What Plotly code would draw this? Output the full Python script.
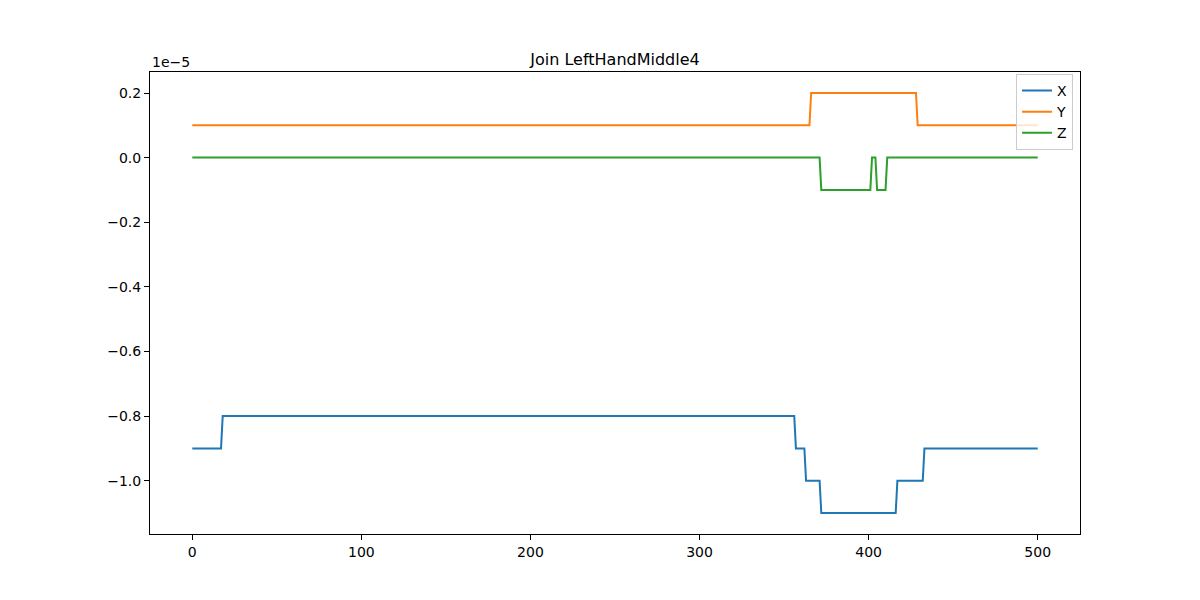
import plotly.graph_objects as go

# Werte in Einheiten von 1e-5, nur die Eckpunkte der Treppen
x_idx = [0, 17, 18, 356, 357, 362, 363, 371, 372, 416, 417, 432, 433, 500]
x_val = [-0.9, -0.9, -0.8, -0.8, -0.9, -0.9, -1.0, -1.0, -1.1, -1.1, -1.0, -1.0, -0.9, -0.9]

y_idx = [0, 365, 366, 428, 429, 500]
y_val = [0.1, 0.1, 0.2, 0.2, 0.1, 0.1]

z_idx = [0, 371, 372, 401, 402, 404, 405, 410, 411, 500]
z_val = [0.0, 0.0, -0.1, -0.1, 0.0, 0.0, -0.1, -0.1, 0.0, 0.0]

x_ticks = [0, 100, 200, 300, 400, 500]
y_ticks = [0.2, 0.0, -0.2, -0.4, -0.6, -0.8, -1.0]

FONT = "DejaVu Sans"

fig = go.Figure()
fig.add_trace(go.Scatter(x=x_idx, y=x_val, mode="lines", name="X",
                         line=dict(color="#1f77b4", width=2)))
fig.add_trace(go.Scatter(x=y_idx, y=y_val, mode="lines", name="Y",
                         line=dict(color="#ff7f0e", width=2)))
fig.add_trace(go.Scatter(x=z_idx, y=z_val, mode="lines", name="Z",
                         line=dict(color="#2ca02c", width=2)))

axis_style = dict(showgrid=False, zeroline=False, showline=True, linecolor="black",
                  linewidth=1, mirror=True, ticks="outside", ticklen=5,
                  tickcolor="black", tickfont=dict(family=FONT, size=14, color="black"))

fig.update_layout(
    width=1200, height=600,
    paper_bgcolor="white", plot_bgcolor="white",
    margin=dict(l=142, r=128, t=64, b=74),
    title=dict(text="Join LeftHandMiddle4", x=607 / 1200, xanchor="center",
               y=1 - 51 / 600, yanchor="middle",
               font=dict(family=FONT, size=16, color="black")),
    xaxis=dict(range=[-25, 525], tickvals=x_ticks, **axis_style),
    yaxis=dict(range=[-1.165, 0.265], tickvals=y_ticks, tickformat=".1f", **axis_style),
    legend=dict(x=0.9925, y=0.996, xanchor="right", yanchor="top",
                bgcolor="rgba(255,255,255,0.8)", bordercolor="#cccccc", borderwidth=1,
                font=dict(family=FONT, size=14, color="black")),
    annotations=[dict(text="1e\u22125", xref="paper", yref="paper", x=0, y=1,
                      xanchor="left", yanchor="bottom", showarrow=False,
                      font=dict(family=FONT, size=14, color="black"))],
)

fig.write_html("out.html")
